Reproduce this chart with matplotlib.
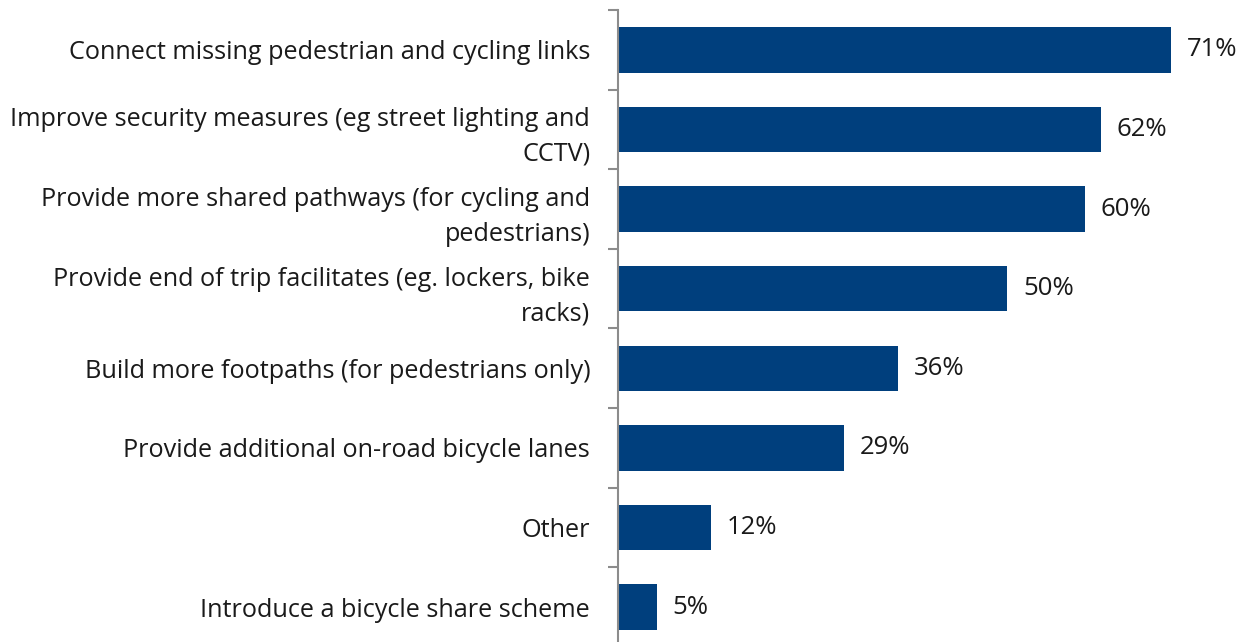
import matplotlib.pyplot as plt
from matplotlib.ticker import FixedLocator

plt.rcParams['font.family'] = ['Open Sans', 'DejaVu Sans']

# Data (top to bottom as shown)
categories = [
    "Connect missing pedestrian and cycling links",
    "Improve security measures (eg street lighting and\nCCTV)",
    "Provide more shared pathways (for cycling and\npedestrians)",
    "Provide end of trip facilitates (eg. lockers, bike\nracks)",
    "Build more footpaths (for pedestrians only)",
    "Provide additional on-road bicycle lanes",
    "Other",
    "Introduce a bicycle share scheme",
]
values = [71, 62, 60, 50, 36, 29, 12, 5]

BAR_COLOR = "#003F7D"
AXIS_COLOR = "#8C8C8C"
TEXT_COLOR = "#1a1a1a"

fig = plt.figure(figsize=(12.47, 6.42), dpi=100)
# axis runs a little past the bottom edge of the picture
ax = fig.add_axes([618 / 1247, -5 / 642, 623 / 1247, 637 / 642])

n = len(categories)
ypos = list(range(n))[::-1]
ax.barh(ypos, values, height=0.57, color=BAR_COLOR)

for y, v in zip(ypos, values):
    ax.text(v + 2.0, y, f"{v}%", va="center", ha="left", fontsize=18.5, color=TEXT_COLOR)

ax.set_xlim(0, 80)
ax.set_ylim(-0.5, n - 0.5)

# category labels centred on bars, ticks at boundaries
ax.set_yticks(ypos)
ax.set_yticklabels(categories, fontsize=18.2, color=TEXT_COLOR, ha="right")
ax.tick_params(axis="y", which="major", length=0, pad=20)
ax.yaxis.set_minor_locator(FixedLocator([i - 0.5 for i in range(n + 1)]))
ax.tick_params(axis="y", which="minor", length=7, width=1.5, color=AXIS_COLOR, direction="out")

for lbl in ax.get_yticklabels():
    lbl.set_multialignment("right")
    lbl.set_linespacing(1.5)

ax.set_xticks([])
for s in ["top", "right", "bottom"]:
    ax.spines[s].set_visible(False)
ax.spines["left"].set_color(AXIS_COLOR)
ax.spines["left"].set_linewidth(1.5)

fig.savefig("out.png", dpi=100)
